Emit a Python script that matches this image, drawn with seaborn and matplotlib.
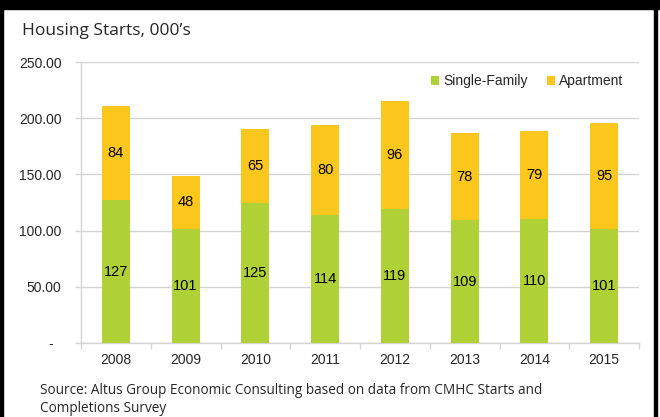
import numpy as np
import pandas as pd
import matplotlib
matplotlib.use("Agg")
import matplotlib.pyplot as plt
import seaborn as sns

years = ["2008", "2009", "2010", "2011", "2012", "2013", "2014", "2015"]
single_family = [127, 101, 125, 114, 119, 109, 110, 101]
apartment = [84, 48, 65, 80, 96, 78, 79, 95]
y_ticks = [0, 50, 100, 150, 200, 250]

green = "#b0d136"
yellow = "#fcc71c"
grid_col = "#d4d4d4"

sns.set_theme(style="white")
plt.rcParams["font.family"] = ["Liberation Sans", "DejaVu Sans"]

df = pd.DataFrame({"year": years, "sf": single_family, "apt": apartment})

fig = plt.figure(figsize=(6.6, 4.17), dpi=100)
ax = fig.add_axes([81 / 660, 74 / 417, 558 / 660, 281 / 417])

sns.barplot(data=df, x="year", y="sf", color=green, width=0.4, saturation=1,
            linewidth=0, ax=ax, label="Single-Family", zorder=3)
sns.barplot(data=df, x="year", y="apt", bottom=df["sf"], color=yellow, width=0.4,
            saturation=1, linewidth=0, ax=ax, label="Apartment", zorder=3)

# value labels centred in each segment
for c in ax.containers:
    ax.bar_label(c, labels=[f"{v:.0f}" for v in c.datavalues], label_type="center",
                 fontsize=10.5, color="black")

ax.set_ylim(0, 250)
ax.set_xlim(-0.5, len(years) - 0.5)
ax.set_yticks(y_ticks)
ax.set_yticklabels(["-  "] + [f"{v:.2f}" for v in y_ticks[1:]], fontsize=10)
ax.set_xlabel("")
ax.set_ylabel("")
ax.tick_params(axis="x", length=0, pad=7, labelsize=10)
ax.tick_params(axis="y", length=4, width=1, color=grid_col, pad=10, left=True)
ax.yaxis.grid(True, color=grid_col, linewidth=1)
ax.set_axisbelow(True)

# small category separator ticks on the x axis
ax.set_xticks(np.arange(-0.5, len(years), 1), minor=True)
ax.tick_params(axis="x", which="minor", length=4, color=grid_col, bottom=True)

for side in ["top", "right"]:
    ax.spines[side].set_visible(False)
for side in ["left", "bottom"]:
    ax.spines[side].set_color(grid_col)
    ax.spines[side].set_linewidth(1)

leg = ax.legend(loc="upper right", bbox_to_anchor=(0.995, 1.0), ncol=2, frameon=False,
                fontsize=10, handlelength=0.6, handleheight=0.6, handletextpad=0.3,
                columnspacing=1.4)

fig.text(22 / 660, 1 - 31 / 417, "Housing Starts, 000\u2019s", fontsize=12.5,
         family=["Open Sans", "DejaVu Sans"], va="center", ha="left")
fig.text(40 / 660, 1 - 390 / 417, "Source: Altus Group Economic Consulting based on data from CMHC Starts and",
         fontsize=9.8, family=["Open Sans", "DejaVu Sans"], va="center", ha="left")
fig.text(40 / 660, 1 - 408 / 417, "Completions Survey",
         fontsize=9.8, family=["Open Sans", "DejaVu Sans"], va="center", ha="left")

# black frame pieces
fig.patches.append(plt.Rectangle((0, 1 - 9 / 417), 1, 9 / 417, transform=fig.transFigure,
                                 color="black", zorder=10))
fig.patches.append(plt.Rectangle((0, 0), 3 / 660, 1, transform=fig.transFigure,
                                 color="black", zorder=10))
fig.patches.append(plt.Rectangle((654 / 660, 0), 3 / 660, 1, transform=fig.transFigure,
                                 color="black", zorder=10))

fig.savefig("out.png", dpi=100)
